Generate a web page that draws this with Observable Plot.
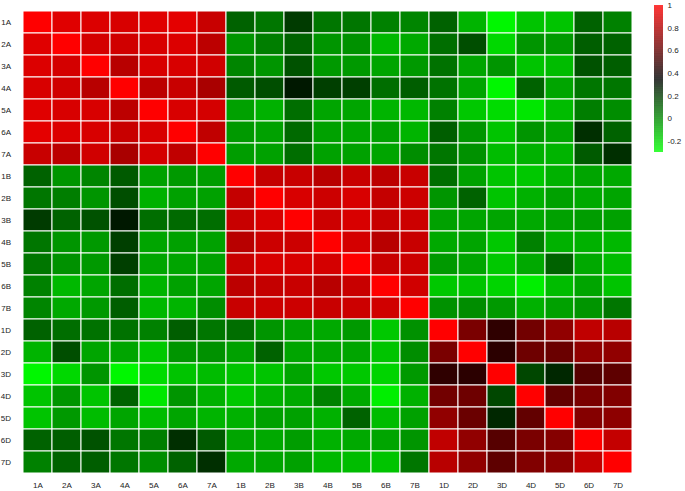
<!DOCTYPE html>
<html><head><meta charset="utf-8">
<script src="https://cdn.jsdelivr.net/npm/d3@7"></script>
<script src="https://cdn.jsdelivr.net/npm/@observablehq/plot@0.6"></script>
<style>
body{margin:0;background:#fff;}
#wrap{position:relative;width:685px;height:491px;overflow:hidden;}
#wrap svg{position:absolute;}
</style></head><body><div id="wrap"></div>
<script>
const labels = ["1A","2A","3A","4A","5A","6A","7A","1B","2B","3B","4B","5B","6B","7B","1D","2D","3D","4D","5D","6D","7D"];

const corr = [
  [1,.92,.91,.90,.92,.93,.86, .10,.05,.20,.05,.05,.02,.01, .10,-.11,-.28,-.15,-.15,.10,.02],
  [.92,1,.89,.88,.90,.91,.83, -.03,.03,.10,-.03,-.02,-.12,-.08, .07,.15,-.20,-.03,-.04,.11,.10],
  [.91,.89,1,.82,.90,.90,.88, .01,-.03,.14,-.04,-.04,-.07,-.04, .06,-.07,-.03,-.15,-.13,.14,.11],
  [.90,.88,.82,1,.83,.86,.78, .12,.15,.29,.19,.19,.07,.11, .06,-.07,-.28,.10,-.07,.05,.05],
  [.92,.90,.90,.83,1,.90,.89, -.06,-.10,.07,-.07,-.07,-.11,-.12, .02,-.16,-.21,-.24,-.13,.03,-.01],
  [.93,.91,.90,.86,.90,1,.84, -.04,-.06,.08,-.06,-.07,-.06,-.11, .11,-.03,-.15,-.03,-.07,.23,.10],
  [.86,.83,.88,.78,.89,.84,1, -.05,-.06,.07,-.06,-.06,-.07,-.01, .05,-.02,-.13,-.10,-.11,.12,.23],
  [.10,-.03,.01,.12,-.06,-.04,-.05, 1,.85,.86,.82,.86,.83,.86, .07,-.06,-.15,-.16,-.10,-.07,-.08],
  [.05,.03,-.03,.15,-.10,-.06,-.06, .85,1,.90,.87,.90,.85,.87, -.03,.10,-.15,-.10,-.06,-.08,-.07],
  [.20,.10,.14,.29,.07,.08,.07, .86,.90,1,.87,.90,.86,.87, -.06,-.07,-.07,-.08,-.06,-.05,-.06],
  [.05,-.03,-.04,.19,-.07,-.06,-.06, .82,.87,.87,1,.89,.82,.86, -.08,-.07,-.16,.02,-.10,-.10,-.12],
  [.05,-.02,-.04,.19,-.07,-.07,-.06, .86,.90,.90,.89,1,.86,.87, -.04,-.07,-.16,-.08,.10,-.08,-.13],
  [.02,-.12,-.07,.07,-.11,-.06,-.07, .83,.85,.86,.82,.86,1,.88, -.16,-.15,-.19,-.26,-.13,-.07,-.15],
  [.01,-.08,-.04,.11,-.12,-.11,-.01, .86,.87,.87,.86,.87,.88,1, -.02,-.01,-.04,-.10,-.06,-.03,.05],
  [.10,.07,.06,.06,.02,.11,.05, .07,-.03,-.06,-.08,-.04,-.16,-.02, 1,.66,.47,.64,.72,.84,.82],
  [-.11,.15,-.07,-.07,-.16,-.03,-.02, -.06,.10,-.07,-.07,-.07,-.15,-.01, .66,1,.46,.63,.62,.72,.72],
  [-.28,-.20,-.03,-.28,-.21,-.15,-.13, -.15,-.15,-.07,-.16,-.16,-.19,-.04, .47,.46,1,.17,.25,.57,.59],
  [-.15,-.03,-.15,.10,-.24,-.03,-.10, -.16,-.10,-.08,.02,-.08,-.26,-.10, .64,.63,.17,1,.60,.66,.68],
  [-.15,-.04,-.13,-.07,-.13,-.07,-.11, -.10,-.06,-.06,-.10,.10,-.13,-.06, .72,.62,.25,.60,1,.69,.71],
  [.10,.11,.14,.05,.03,.23,.12, -.07,-.08,-.05,-.10,-.08,-.07,-.03, .84,.72,.57,.66,.69,1,.85],
  [.02,.10,.11,.05,-.01,.10,.23, -.08,-.07,-.06,-.12,-.13,-.15,.05, .82,.72,.59,.68,.71,.85,1]
];

const colorDomain = [-0.3, 0.35, 1];
const colorRange = ["#00ff00", "#000000", "#ff0000"];
const colorbarTicks = [1, 0.8, 0.6, 0.4, 0.2, 0, -0.2];

const cells = [];
labels.forEach((r, i) => labels.forEach((c, j) => cells.push({row: r, col: c, value: corr[i][j]})));

const color = {type: "linear", domain: colorDomain, range: colorRange, interpolate: "rgb"};
const font = {fontFamily: "'Liberation Sans', Arial, sans-serif", fontSize: "8px", color: "#222", background: "transparent"};

const main = Plot.plot({
  width: 685, height: 491,
  marginLeft: 17.5, marginRight: 47, marginTop: 5, marginBottom: 13,
  style: font,
  x: {domain: labels, padding: 0, label: null, tickSize: 0, tickPadding: 4},
  y: {domain: labels, padding: 0, label: null, tickSize: 0, tickPadding: 7},
  color,
  marks: [
    Plot.cell(cells, {x: "col", y: "row", fill: "value", stroke: "white", strokeWidth: 1, inset: 0})
  ]
});
main.style.left = "0px"; main.style.top = "0px";

const steps = d3.range(-0.3, 1, 0.005);
const bar = Plot.plot({
  width: 45, height: 157,
  marginLeft: 14, marginRight: 22, marginTop: 5, marginBottom: 5,
  style: font,
  x: {axis: null, domain: [0, 1]},
  y: {domain: [-0.3, 1], ticks: colorbarTicks, tickSize: 0, tickPadding: 4, label: null, axis: "right", tickFormat: d => String(d)},
  color,
  marks: [
    Plot.rect(steps, {x1: () => 0, x2: () => 1, y1: d => d, y2: d => Math.min(1, d + 0.0055), fill: d => d + 0.0025})
  ]
});
bar.style.left = "640px"; bar.style.top = "0px";

const wrap = document.getElementById("wrap");
wrap.appendChild(main);
wrap.appendChild(bar);
</script>
</body></html>
